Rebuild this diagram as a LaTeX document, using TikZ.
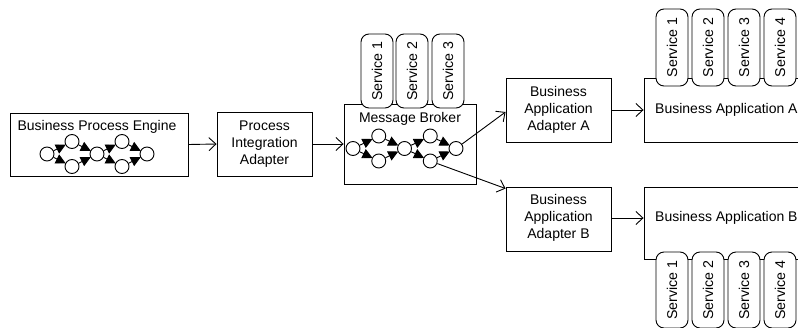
\documentclass[tikz,border=0pt]{standalone}
\usepackage{fontspec}
\setmainfont{Liberation Sans}
\usetikzlibrary{arrows.meta}
\tikzset{
  box/.style={draw, line width=0.9pt, fill=white, inner sep=0pt},
  svc/.style={draw, line width=0.9pt, fill=white, rounded corners=8pt, rotate=90,
    minimum height=32pt, inner sep=0pt, font=\fontsize{14.2}{17}\selectfont},
  circ/.style={circle, draw, line width=0.9pt, fill=white, minimum size=14pt, inner sep=0pt},
  conn/.style={line width=0.9pt, -{Straight Barb[length=7pt,width=13pt]}},
  flowarr/.style={line width=0.9pt, -{Triangle[length=10pt,width=10pt]}, shorten >=-0.5pt},
  lbl/.style={align=center, font=\fontsize{14}{17}\selectfont, inner sep=0pt}
}
\newcommand\flownet[4]{%
  \node[circ] (f#1-a)  at (#2,#3) {};
  \node[circ] (f#1-t1) at ({#2+#4},{#3-12.5}) {};
  \node[circ] (f#1-b1) at ({#2+#4},{#3+12.5}) {};
  \node[circ] (f#1-m)  at ({#2+2*#4},#3) {};
  \node[circ] (f#1-t2) at ({#2+3*#4},{#3-12.5}) {};
  \node[circ] (f#1-b2) at ({#2+3*#4},{#3+12.5}) {};
  \node[circ] (f#1-e)  at ({#2+4*#4},#3) {};
  \draw[flowarr] (f#1-a) -- (f#1-t1);
  \draw[flowarr] (f#1-a) -- (f#1-b1);
  \draw[flowarr] (f#1-t1) -- (f#1-m);
  \draw[flowarr] (f#1-b1) -- (f#1-m);
  \draw[flowarr] (f#1-m) -- (f#1-t2);
  \draw[flowarr] (f#1-m) -- (f#1-b2);
  \draw[flowarr] (f#1-t2) -- (f#1-e);
  \draw[flowarr] (f#1-b2) -- (f#1-e);
}
\begin{document}
\begin{tikzpicture}[x=1pt,y=-1pt]
\useasboundingbox (0,0) rectangle (798,327);
\clip (0,0) rectangle (798,327);

% Business Process Engine
\node[box, minimum width=178pt, minimum height=63pt] (bpe) at (99,144.5) {};
\node[lbl] (bpet) at (97,127) {Business Process Engine};
\flownet{bp}{47}{154}{25}

% Process Integration Adapter
\node[box, minimum width=95pt, minimum height=64pt] (pia) at (264.5,144) {};
\node[lbl] (piat) at (264.5,144) {Process\\Integration\\Adapter};

% Message Broker
\node[box, minimum width=132pt, minimum height=80pt] (mb) at (410,144) {};
\node[svc, minimum width=74pt] (ms1) at (377,71) {Service 1};
\node[svc, minimum width=74pt] (ms2) at (412,71) {Service 2};
\node[svc, minimum width=74pt] (ms3) at (448,71) {Service 3};
\node[lbl] (mbt) at (410,119) {Message Broker};
\flownet{mb}{353}{148.5}{25.75}

% Business Application Adapters
\node[box, minimum width=105pt, minimum height=64pt] (baaA) at (558.5,110) {};
\node[lbl] (baaAt) at (558.5,110) {Business\\Application\\Adapter A};
\node[box, minimum width=105pt, minimum height=64pt] (baaB) at (558.5,219) {};
\node[lbl] (baaBt) at (558.5,218) {Business\\Application\\Adapter B};

% Business Application A
\node[box, minimum width=200pt, minimum height=64pt] (baA) at (744,110) {};
\node[svc, minimum width=77pt] (as1) at (672,47.5) {Service 1};
\node[svc, minimum width=77pt] (as2) at (708,47.5) {Service 2};
\node[svc, minimum width=77pt] (as3) at (744,47.5) {Service 3};
\node[svc, minimum width=77pt] (as4) at (780,47.5) {Service 4};
\node[lbl, anchor=west] (baAt) at (655,110) {Business Application A};

% Business Application B
\node[box, minimum width=200pt, minimum height=72pt] (baB) at (744,223) {};
\node[svc, minimum width=76pt] (bs1) at (672,290) {Service 1};
\node[svc, minimum width=76pt] (bs2) at (708,290) {Service 2};
\node[svc, minimum width=76pt] (bs3) at (744,290) {Service 3};
\node[svc, minimum width=76pt] (bs4) at (780,290) {Service 4};
\node[lbl, anchor=west] (baBt) at (655,217.5) {Business Application B};

% connectors
\draw[conn] (bpe.east) -- (pia.west);
\draw[conn] (pia.east) -- (mb.west);
\draw[conn] (fmb-e) -- ([yshift=-2pt]baaA.west);
\draw[conn] (fmb-b2) -- ([yshift=-2pt]baaB.north west);
\draw[conn] (baaA.east) -- (baA.west);
\draw[conn] ([yshift=1pt]baaB.east) -- ([yshift=1pt]baaB.east -| baB.west);
\end{tikzpicture}
\end{document}
